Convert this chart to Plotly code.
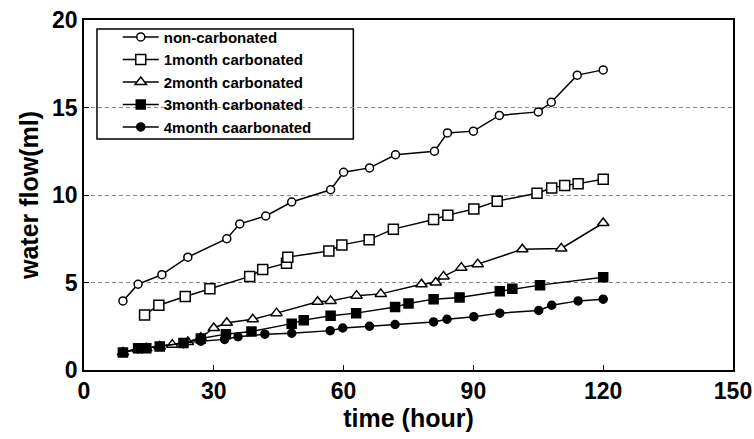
import plotly.graph_objects as go

# time (hour) and water flow (ml) for each series
t_non = [9, 12.5, 18, 24, 33, 36, 42, 48, 57, 60, 66, 72, 81, 84, 90, 96, 105, 108, 114, 120]
v_non = [3.95, 4.9, 5.45, 6.45, 7.5, 8.35, 8.8, 9.6, 10.3, 11.3, 11.55, 12.3, 12.5, 13.55, 13.65, 14.55, 14.75, 15.3, 16.85, 17.15]

t_1m = [14, 17.3, 23.4, 29.1, 38.3, 41.3, 46.8, 47.1, 56.6, 59.6, 65.9, 71.5, 80.8, 84.1, 90.1, 95.5, 104.7, 108.1, 111.1, 114.2, 120]
v_1m = [3.15, 3.7, 4.2, 4.65, 5.35, 5.75, 6.1, 6.45, 6.8, 7.15, 7.45, 8.05, 8.6, 8.85, 9.2, 9.65, 10.1, 10.4, 10.55, 10.65, 10.9]

t_2m = [9, 12.5, 14.4, 17.5, 20.4, 24, 27, 30, 33, 39, 44.5, 54, 57, 63, 68.6, 78, 81.3, 83.1, 87.2, 91, 101.3, 110.3, 120]
v_2m = [1.0, 1.2, 1.25, 1.35, 1.45, 1.6, 1.85, 2.4, 2.7, 2.9, 3.25, 3.9, 3.95, 4.25, 4.35, 4.9, 5.0, 5.35, 5.85, 6.05, 6.9, 6.95, 8.4]

t_3m = [9, 12.5, 14.4, 17.5, 23, 27, 32.8, 38.7, 48, 50.8, 57, 62.9, 71.9, 75, 80.8, 86.8, 96.1, 99, 105.4, 120]
v_3m = [1.0, 1.25, 1.25, 1.35, 1.55, 1.8, 2.05, 2.2, 2.65, 2.85, 3.1, 3.25, 3.6, 3.8, 4.05, 4.15, 4.5, 4.65, 4.85, 5.3]

t_4m = [9, 12.5, 14.4, 17.5, 23, 27, 32.5, 35.6, 41.8, 48, 56.9, 59.8, 66, 71.9, 80.8, 83.9, 90.1, 96.1, 105.1, 108.1, 114.2, 120]
v_4m = [1.0, 1.2, 1.25, 1.35, 1.5, 1.65, 1.75, 1.9, 2.05, 2.1, 2.25, 2.4, 2.5, 2.6, 2.75, 2.9, 3.05, 3.25, 3.4, 3.7, 3.95, 4.05]

names = ["non-carbonated", "1month carbonated", "2month carbonated",
         "3month carbonated", "4month caarbonated"]
x_ticks = [0, 30, 60, 90, 120, 150]
y_ticks = [0, 5, 10, 15, 20]

series = [
    (t_non, v_non, "circle", 8, "white"),
    (t_1m, v_1m, "square", 10, "white"),
    (t_2m, v_2m, "triangle-up", 10, "white"),
    (t_3m, v_3m, "square", 9, "black"),
    (t_4m, v_4m, "circle", 8, "black"),
]

fig = go.Figure()
for (xs, ys, sym, sz, fill), nm in zip(series, names):
    fig.add_trace(go.Scatter(
        x=xs, y=ys, name=nm, mode="lines+markers",
        line=dict(color="black", width=1.5),
        marker=dict(symbol=sym, size=sz, color=fill,
                    line=dict(color="black", width=1.5)),
    ))

# legend frame
fig.add_shape(type="rect", xref="paper", yref="paper",
              x0=0.02, x1=0.415, y0=0.66, y1=0.974,
              line=dict(color="black", width=1.5), fillcolor="white", layer="below")

font_family = "Liberation Sans, Arial, sans-serif"
tick_family = "Liberation Sans Narrow, Liberation Sans, Arial, sans-serif"
fig.update_layout(
    width=754, height=439,
    margin=dict(l=84, r=21, t=20, b=69, autoexpand=False),
    paper_bgcolor="white", plot_bgcolor="white",
    font=dict(family=font_family, color="black"),
    showlegend=True,
    legend=dict(
        x=0.052, y=0.998, xanchor="left", yanchor="top",
        borderwidth=0, bgcolor="rgba(0,0,0,0)",
        font=dict(size=15, family=font_family, weight="bold"),
        tracegroupgap=0, itemwidth=36,
    ),
    xaxis=dict(
        range=[0, 150], tickvals=x_ticks, ticktext=[str(v) for v in x_ticks],
        showgrid=False, zeroline=False, automargin=False,
        showline=True, linecolor="black", linewidth=1.5, mirror=True,
        ticks="inside", ticklen=5, tickcolor="black",
        tickfont=dict(size=23, family=tick_family, weight="bold"),
        title=dict(text="time (hour)", font=dict(size=25, weight="bold"), standoff=4),
    ),
    yaxis=dict(
        range=[0, 20], tickvals=y_ticks, ticktext=[str(v) for v in y_ticks],
        showgrid=True, gridcolor="#8a8a8a", gridwidth=1, griddash="4px,3px",
        zeroline=False, automargin=False,
        showline=True, linecolor="black", linewidth=1.5, mirror=True,
        ticks="inside", ticklen=5, tickcolor="black",
        tickfont=dict(size=23, family=tick_family, weight="bold"),
        title=dict(text="water flow(ml)", font=dict(size=25, weight="bold"), standoff=6),
    ),
)

fig.write_html("out.html")
